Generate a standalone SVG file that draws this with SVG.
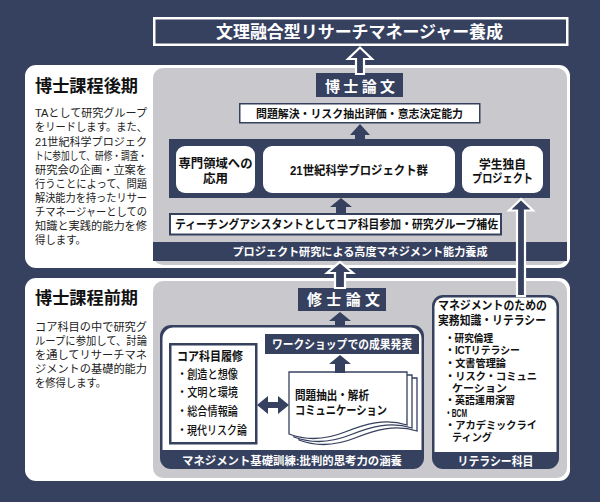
<svg xmlns="http://www.w3.org/2000/svg" width="600" height="502" viewBox="0 0 600 502">
<defs>
<style>
text{font-family:"Liberation Sans","Noto Sans CJK JP",sans-serif;}
.nv{fill:#36415f;}
.wt{fill:#fff;}
.gr{fill:#c9c9cd;}
.bw{fill:#fff;font-weight:bold;}
.bk{fill:#111;font-weight:bold;}
.para{fill:#222;font-size:11px;}
.box{fill:#fff;stroke:#36415f;}
.arrW{fill:#36415f;stroke:#fff;stroke-width:2.2;stroke-linejoin:miter;}
.arrN{fill:#36415f;}
.lit{fill:#111;font-weight:bold;font-size:10.5px;}
.item{fill:#111;font-weight:500;font-size:12px;}
</style>
</defs>
<rect x="0" y="0" width="600" height="502" class="nv"/>

<g id="title">
<rect x="154.25" y="18.25" width="413" height="26.5" class="nv" stroke="#fff" stroke-width="2.5"/>
<text x="216" y="37.5" class="bw" font-size="17" textLength="287" lengthAdjust="spacingAndGlyphs">文理融合型リサーチマネージャー養成</text>
</g>

<g id="upper-panel">
<rect x="25" y="65" width="545" height="203" rx="11" class="wt"/>
<rect x="153" y="68" width="414" height="197" rx="10" class="gr"/>
<path d="M153,242 H567 V261 H153 Z" class="nv"/>
<text x="360" y="256" text-anchor="middle" class="bw" font-size="11.5" textLength="255" lengthAdjust="spacingAndGlyphs">プロジェクト研究による高度マネジメント能力養成</text>
</g>

<g id="late-doctoral-text">
<text x="35" y="91.5" class="bk" font-size="17" textLength="103" lengthAdjust="spacingAndGlyphs">博士課程後期</text>
<text class="para"><tspan x="35" y="117.3" textLength="112" lengthAdjust="spacingAndGlyphs">TAとして研究グループ</tspan><tspan x="35" y="131.4" textLength="112" lengthAdjust="spacingAndGlyphs">をリードします。また、</tspan><tspan x="35" y="145.5" textLength="112" lengthAdjust="spacingAndGlyphs">21世紀科学プロジェク</tspan><tspan x="35" y="159.6" textLength="112" lengthAdjust="spacingAndGlyphs">トに参加して、研修・調査・</tspan><tspan x="35" y="173.7" textLength="112" lengthAdjust="spacingAndGlyphs">研究会の企画・立案を</tspan><tspan x="35" y="187.8" textLength="112" lengthAdjust="spacingAndGlyphs">行うことによって、問題</tspan><tspan x="35" y="201.9" textLength="112" lengthAdjust="spacingAndGlyphs">解決能力を持ったリサー</tspan><tspan x="35" y="216" textLength="112" lengthAdjust="spacingAndGlyphs">チマネージャーとしての</tspan><tspan x="35" y="230.1" textLength="112" lengthAdjust="spacingAndGlyphs">知識と実践的能力を修</tspan><tspan x="35" y="244.2" textLength="51" lengthAdjust="spacingAndGlyphs">得します。</tspan></text>
</g>

<g id="doctoral-thesis">
<rect x="316" y="73" width="87" height="24" class="nv"/>
<text x="325" y="91.5" class="bw" font-size="15" textLength="70" lengthAdjust="spacing">博士論文</text>
</g>

<g id="ability-box">
<rect x="239.75" y="103.75" width="240" height="19" class="box" stroke-width="1.5"/>
<text x="359.5" y="117.5" text-anchor="middle" class="bk" font-size="11.5" textLength="207" lengthAdjust="spacingAndGlyphs">問題解決・リスク抽出評価・意志決定能力</text>
</g>

<g id="project-container">
<rect x="169" y="139" width="381" height="59" class="nv"/>
</g>
<g id="specialty">
<rect x="176" y="146" width="79" height="47" rx="9" class="wt"/>
<text class="bk" font-size="12.5" text-anchor="middle"><tspan x="215.5" y="167.7" textLength="74" lengthAdjust="spacingAndGlyphs">専門領域への</tspan><tspan x="215.5" y="182.7">応用</tspan></text>
</g>
<g id="projects21">
<rect x="263" y="146" width="192" height="47" rx="9" class="wt"/>
<text x="359" y="174.7" text-anchor="middle" class="bk" font-size="12.5" textLength="138" lengthAdjust="spacingAndGlyphs">21世紀科学プロジェクト群</text>
</g>
<g id="student-project">
<rect x="462" y="146" width="81" height="47" rx="9" class="wt"/>
<text class="bk" font-size="12.5" text-anchor="middle"><tspan x="502.5" y="168.7" textLength="47" lengthAdjust="spacingAndGlyphs">学生独自</tspan><tspan x="502.5" y="182.7" textLength="61" lengthAdjust="spacingAndGlyphs">プロジェクト</tspan></text>
</g>

<g id="ta-box">
<rect x="170" y="214" width="331" height="20.5" class="box" stroke-width="2"/>
<text x="175" y="228.5" class="bk" font-size="12" textLength="323" lengthAdjust="spacingAndGlyphs">ティーチングアシスタントとしてコア科目参加・研究グループ補佐</text>
</g>

<g id="lower-panel">
<rect x="25" y="278" width="545" height="203" rx="11" class="wt"/>
<rect x="153" y="281" width="414" height="197" rx="10" class="gr"/>
</g>

<g id="early-doctoral-text">
<text x="35" y="303.5" class="bk" font-size="17" textLength="103" lengthAdjust="spacingAndGlyphs">博士課程前期</text>
<text class="para"><tspan x="35" y="331.3" textLength="112" lengthAdjust="spacingAndGlyphs">コア科目の中で研究グ</tspan><tspan x="35" y="345.1" textLength="112" lengthAdjust="spacingAndGlyphs">ループに参加して、討論</tspan><tspan x="35" y="358.9" textLength="112" lengthAdjust="spacingAndGlyphs">を通してリサーチマネ</tspan><tspan x="35" y="372.7" textLength="112" lengthAdjust="spacingAndGlyphs">ジメントの基礎的能力</tspan><tspan x="35" y="386.5" textLength="71" lengthAdjust="spacingAndGlyphs">を修得します。</tspan></text>
</g>

<g id="master-thesis">
<rect x="298" y="288" width="88" height="23" class="nv"/>
<text x="307" y="305" class="bw" font-size="15" textLength="73" lengthAdjust="spacing">修士論文</text>
</g>

<g id="management-training">
<rect x="160" y="325" width="264" height="144" rx="11" class="nv"/>
<path d="M171,327.5 H410.5 a11,11 0 0 1 11,11 V450 H162.5 V338.5 a11,11 0 0 1 11,-11 Z" class="wt"/>
<text x="292" y="464.5" text-anchor="middle" class="bw" font-size="11.5" textLength="220" lengthAdjust="spacingAndGlyphs">マネジメント基礎訓練:批判的思考力の涵養</text>
</g>

<g id="core-courses">
<rect x="170.25" y="344.25" width="86" height="99" class="box" stroke-width="2.5"/>
<text x="177" y="360.7" class="bk" font-size="12.5" textLength="66" lengthAdjust="spacingAndGlyphs">コア科目履修</text>
<text class="item"><tspan x="177" y="378.6" textLength="61" lengthAdjust="spacingAndGlyphs">・創造と想像</tspan><tspan x="177" y="397.3" textLength="61" lengthAdjust="spacingAndGlyphs">・文明と環境</tspan><tspan x="177" y="416.3" textLength="61" lengthAdjust="spacingAndGlyphs">・総合情報論</tspan><tspan x="177" y="434.6" textLength="70" lengthAdjust="spacingAndGlyphs">・現代リスク論</tspan></text>
</g>

<g id="workshop">
<rect x="265" y="334" width="154" height="20" class="nv"/>
<text x="342" y="348.5" text-anchor="middle" class="bw" font-size="12" textLength="140" lengthAdjust="spacingAndGlyphs">ワークショップでの成果発表</text>
</g>

<g id="analysis-doc">
<path d="M299,378 H417 V431 C395,424 375,430 355,438 C335,446 315,446 299,440 Z" class="box" stroke-width="1.3"/>
<path d="M294,375 H412 V428 C390,421 370,427 350,435 C330,443 310,443 294,437 Z" class="box" stroke-width="1.3"/>
<path d="M289,372 H407 V425 C385,418 365,424 345,432 C325,440 305,440 289,434 Z" class="box" stroke-width="1.3"/>
<text class="bk" font-size="12"><tspan x="295" y="399.6" textLength="74" lengthAdjust="spacingAndGlyphs">問題抽出・解析</tspan><tspan x="295" y="414.6" textLength="92" lengthAdjust="spacingAndGlyphs">コミュニケーション</tspan></text>
</g>

<g id="literacy">
<rect x="432" y="295" width="127" height="174" rx="11" class="nv"/>
<path d="M443.5,297.5 H547.5 a9,9 0 0 1 9,9 V452 H434.5 V306.5 a9,9 0 0 1 9,-9 Z" class="wt"/>
<text class="bk" font-size="12"><tspan x="438" y="309.6" textLength="109" lengthAdjust="spacingAndGlyphs">マネジメントのための</tspan><tspan x="438" y="324.6" textLength="108" lengthAdjust="spacingAndGlyphs">実務知識・リテラシー</tspan></text>
<text class="lit"><tspan x="445" y="342" textLength="48" lengthAdjust="spacingAndGlyphs">・研究倫理</tspan><tspan x="445" y="354" textLength="75" lengthAdjust="spacingAndGlyphs">・ICTリテラシー</tspan><tspan x="445" y="367" textLength="61" lengthAdjust="spacingAndGlyphs">・文書管理論</tspan><tspan x="445" y="380" textLength="92" lengthAdjust="spacingAndGlyphs">・リスク・コミュニ</tspan><tspan x="452" y="392" textLength="55" lengthAdjust="spacingAndGlyphs">ケーション</tspan><tspan x="445" y="404" textLength="70" lengthAdjust="spacingAndGlyphs">・英語運用演習</tspan><tspan x="445" y="417" textLength="22" lengthAdjust="spacingAndGlyphs">・BCM</tspan><tspan x="445" y="429" textLength="92" lengthAdjust="spacingAndGlyphs">・アカデミックライ</tspan><tspan x="452" y="441" textLength="40" lengthAdjust="spacingAndGlyphs">ティング</tspan></text>
<text x="495.5" y="465.5" text-anchor="middle" class="bw" font-size="12" textLength="76" lengthAdjust="spacingAndGlyphs">リテラシー科目</text>
</g>

<g id="connectors">
<path class="arrW" d="M360,47.5 L372,59 L364,59 L364,74 L356,74 L356,59 L348,59 Z"/>
<path class="arrN" d="M360,124 L370,135 L365,135 L365,140 L355,140 L355,135 L350,135 Z"/>
<path class="arrN" d="M341,198 L352,207 L346,207 L346,214 L336,214 L336,207 L330,207 Z"/>
<path class="arrW" d="M340,262 L353,273 L345,273 L345,288 L335,288 L335,273 L327,273 Z"/>
<path class="arrN" d="M340,312 L351,321 L345,321 L345,326 L335,326 L335,321 L329,321 Z"/>
<path class="arrN" d="M340,355 L351,364 L345,364 L345,373 L335,373 L335,364 L329,364 Z"/>
<path class="arrN" d="M257,405 L268,396 L268,402 L278,402 L278,396 L289,405 L278,414 L278,408 L268,408 L268,414 Z"/>
<path class="arrW" d="M521,199 L533,210.5 L525,210.5 L525,296 L517,296 L517,210.5 L509,210.5 Z"/>
</g>
</svg>
